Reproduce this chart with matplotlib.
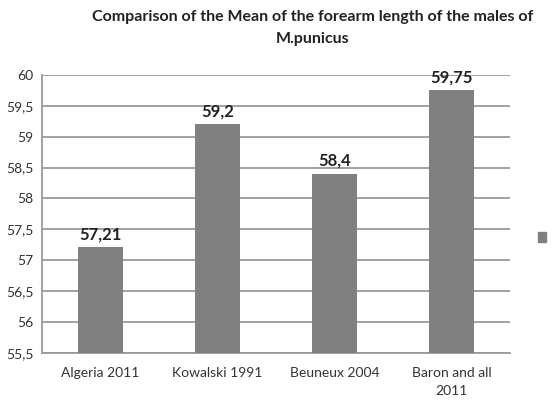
import matplotlib.pyplot as plt
from matplotlib.ticker import FuncFormatter

# data
categories = ['Algeria 2011', 'Kowalski 1991', 'Beuneux 2004', 'Baron and all\n2011']
values = [57.21, 59.2, 58.4, 59.75]
value_labels = ['57,21', '59,2', '58,4', '59,75']
yticks = [55.5, 56, 56.5, 57, 57.5, 58, 58.5, 59, 59.5, 60]

plt.rcParams['font.family'] = ['Lato', 'DejaVu Sans']

fig = plt.figure(figsize=(5.58, 4.09), dpi=100)
ax = fig.add_axes([0.075, 0.137, 0.839, 0.68])

bar_color = '#808080'
grid_color = '#9a9a9a'

x = range(len(categories))
bars = ax.bar(x, values, width=0.39, color=bar_color, zorder=3)

for b, lab in zip(bars, value_labels):
    ax.text(b.get_x() + b.get_width() / 2, b.get_height() + 0.08, lab,
            ha='center', va='bottom', fontsize=12, fontweight='bold', color='#222222', zorder=4)

ax.set_ylim(55.5, 60)
ax.set_xlim(-0.5, len(categories) - 0.5)
ax.set_yticks(yticks)
ax.yaxis.set_major_formatter(FuncFormatter(lambda v, p: ('%g' % v).replace('.', ',')))
ax.set_xticks(list(x))
ax.set_xticklabels(categories, linespacing=1.6)
ax.tick_params(axis='both', length=0, labelsize=10, colors='#333333', pad=6)
ax.tick_params(axis='x', pad=10)

ax.grid(axis='y', color=grid_color, linewidth=1.3, zorder=0)
for s in ['top', 'right']:
    ax.spines[s].set_visible(False)
ax.spines['left'].set_color(grid_color)
ax.spines['bottom'].set_color(grid_color)
ax.spines['left'].set_linewidth(1.3)
ax.spines['bottom'].set_linewidth(1.3)

fig.text(0.56, 0.975, 'Comparison of the Mean of the forearm length of the males of\nM.punicus',
         ha='center', va='top', fontsize=11.5, fontweight='bold', color='#222222', linespacing=1.75)

# lone legend marker on the right
fig.patches.append(plt.Rectangle((538 / 558, 1 - 242 / 409), 8 / 558, 10 / 409,
                                 transform=fig.transFigure, color=bar_color))

fig.savefig('out.png', dpi=100)
